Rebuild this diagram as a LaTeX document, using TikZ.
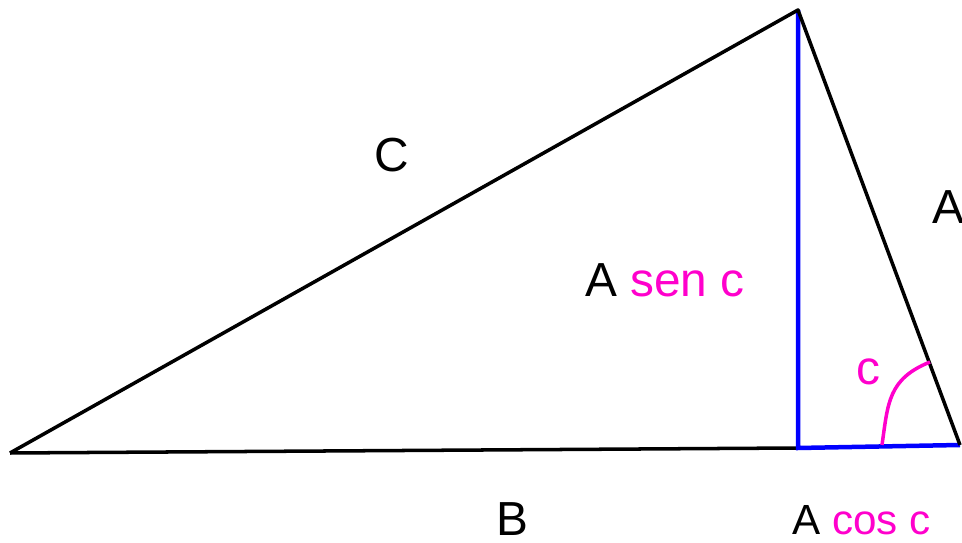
\documentclass[tikz,border=0pt]{standalone}
\usepackage{fontspec}
\setmainfont{Liberation Sans}
\usepackage{xcolor}
\usetikzlibrary{positioning, calc}
\definecolor{angpink}{RGB}{255,0,204}
\definecolor{altblue}{RGB}{0,0,255}
\tikzstyle{side} = [line width=2.5pt, draw=black, line join=round]
\tikzstyle{altline} = [line width=3.2pt, draw=altblue]
\tikzstyle{angarc} = [line width=2.5pt, draw=angpink]
\tikzstyle{lbl} = [inner sep=0pt, font=\fontsize{34}{40}\selectfont]
\tikzstyle{smalllbl} = [inner sep=0pt, font=\fontsize{30}{36}\selectfont]

\begin{document}
\begin{tikzpicture}
  \useasboundingbox (0,0) rectangle (24.05,13.575);
  \coordinate (left) at (0.25,2.25);
  \coordinate (top) at (19.95,13.325);
  \coordinate (right) at (24.0,2.45);
  \coordinate (foot) at (19.95,2.375);
  \coordinate (arcstart) at (22.05,2.45);
  \coordinate (arcend) at (23.25,4.525);

  \draw[side] (left) -- (foot);
  \draw[altline] (top) -- (foot) -- (right);
  \draw[side] (left) -- (top) -- (right);
  \draw[angarc] (arcstart) .. controls (22.2,3.5) and (22.2,4.1) .. (arcend);

  \node (hyp) [lbl] at (9.8,9.7) {C};
  \node (sideA) [lbl, anchor=west] at (23.3,8.4) {A};
  \node (height) [lbl] at (16.62,6.575) {A \textcolor{angpink}{sen c}};
  \node (angc) [lbl, text=angpink] at (21.7,4.275) {c};
  \node (base) [lbl] at (12.8,0.6) {B};
  \node (proj) [smalllbl] at (21.54,0.575) {A \textcolor{angpink}{cos c}};
\end{tikzpicture}
\end{document}
